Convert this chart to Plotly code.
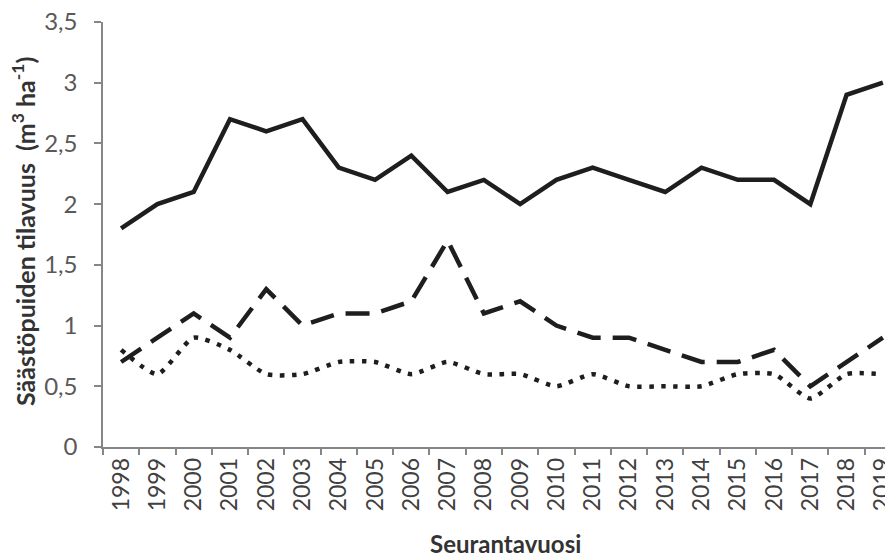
import plotly.graph_objects as go

# vuodet ja sarjat (luettu kuvasta)
vuodet = [str(v) for v in range(1998, 2020)]
kiintea = [1.8, 2.0, 2.1, 2.7, 2.6, 2.7, 2.3, 2.2, 2.4, 2.1, 2.2,
           2.0, 2.2, 2.3, 2.2, 2.1, 2.3, 2.2, 2.2, 2.0, 2.9, 3.0]
katkoviiva = [0.7, 0.9, 1.1, 0.9, 1.3, 1.0, 1.1, 1.1, 1.2, 1.7, 1.1,
              1.2, 1.0, 0.9, 0.9, 0.8, 0.7, 0.7, 0.8, 0.5, 0.7, 0.9]
pisteviiva = [0.8, 0.6, 0.9, 0.8, 0.6, 0.6, 0.7, 0.7, 0.6, 0.7, 0.6,
              0.6, 0.5, 0.6, 0.5, 0.5, 0.5, 0.6, 0.6, 0.4, 0.6, 0.6]

vari = "#1e1e1e"
fontti = "Lato"

fig = go.Figure()
fig.add_trace(go.Scatter(x=vuodet, y=kiintea, mode="lines",
                         line=dict(color=vari, width=4.5)))
fig.add_trace(go.Scatter(x=vuodet, y=katkoviiva, mode="lines",
                         line=dict(color=vari, width=4.5, dash="24px,12px")))
fig.add_trace(go.Scatter(x=vuodet, y=pisteviiva, mode="lines",
                         line=dict(color=vari, width=4.5, dash="4.5px,7.5px",
                                   shape="spline", smoothing=0.6)))

# sivun body-marginaali (8 px) siirtää kuvaa, joten piirtoalue kuvan koordinaateissa
OFF = 8
L, T, B = 103 - OFF, 22 - OFF, 447 - OFF
W, H = 893 - L, B - T

fig.update_layout(
    width=893, height=554,
    margin=dict(l=L, r=0, t=T, b=554 - B, autoexpand=False),
    plot_bgcolor="white", paper_bgcolor="white",
    showlegend=False,
    separators=", ",
    font=dict(family=fontti, color="#595959"),
    xaxis=dict(
        type="category", range=[-0.5, 21.5],
        showline=True, linecolor="#868686", linewidth=1.5,
        ticks="outside", ticklen=6, tickcolor="#868686", tickwidth=1.5,
        tickson="boundaries", tickangle=-90,
        tickfont=dict(family=fontti, size=23, color="#404040"),
        showgrid=False, zeroline=False,
    ),
    yaxis=dict(
        range=[0, 3.5], dtick=0.5,
        showline=True, linecolor="#868686", linewidth=1.5,
        ticks="outside", ticklen=7, tickcolor="#868686", tickwidth=1.5,
        ticklabelstandoff=12, ticklabeloverflow="allow",
        tickfont=dict(family=fontti, size=24, color="#595959"),
        showgrid=False, zeroline=False,
    ),
    annotations=[
        dict(text="<b>Seurantavuosi</b>",
             x=(505 - OFF - L) / W, y=-(543 - OFF - B) / H, xref="paper", yref="paper",
             xanchor="center", yanchor="middle", showarrow=False,
             font=dict(family=fontti, size=24, color="#333333")),
        dict(text="<b>Säästöpuiden tilavuus  (m<sup>3</sup> ha<sup>-1</sup>)</b>",
             x=-(L - (23 - OFF)) / W, y=(B - (232 - OFF)) / H, xref="paper", yref="paper",
             xanchor="center", yanchor="middle", textangle=-90, showarrow=False,
             font=dict(family=fontti, size=25, color="#333333")),
    ],
)

fig.write_html("out.html")
